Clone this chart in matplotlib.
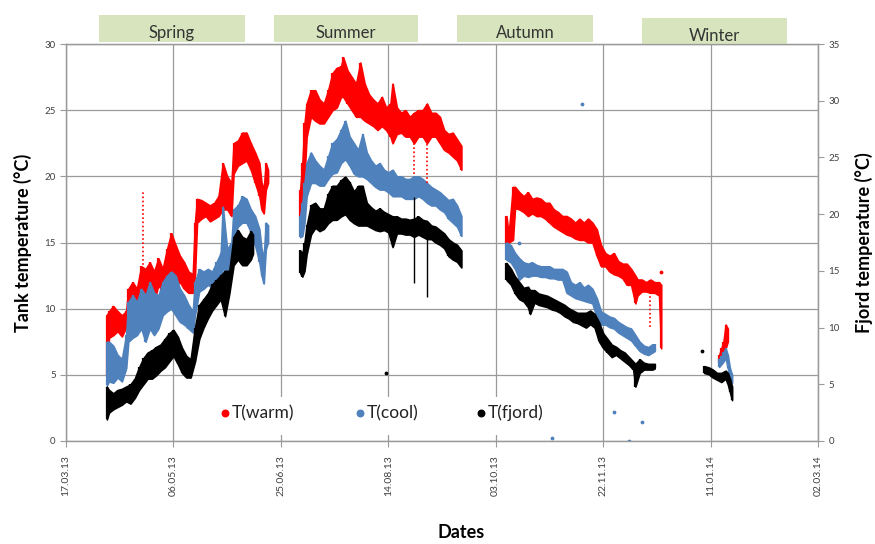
import numpy as np
import matplotlib
matplotlib.use('Agg')
import matplotlib.pyplot as plt
from matplotlib.patches import Rectangle

plt.rcParams['font.family'] = ['Lato', 'DejaVu Sans']

# days counted from 17.03.13, rows are (day, low, high)
warm_spring = [(19, 5.0, 9.5), (20, 7.8, 9.8), (22, 8.0, 10.2), (24, 8.3, 9.8), (26, 7.9, 9.5),
               (28, 8.6, 9.8), (29, 9.5, 11.5), (31, 9.3, 12.0), (33, 9.8, 11.5), (35, 11.0, 13.2),
               (37, 10.3, 13.0), (39, 11.0, 13.5), (41, 10.5, 12.8), (43, 11.8, 13.8), (45, 11.2, 13.0),
               (47, 12.5, 14.5), (49, 12.8, 15.7), (51, 11.8, 14.8), (53, 12.0, 14.0), (55, 11.5, 13.5),
               (57, 11.2, 12.8), (59, 11.2, 12.6), (60, 12.5, 16.5), (61, 16.5, 18.3), (63, 16.8, 18.2),
               (65, 17.0, 18.0), (67, 16.6, 17.8), (69, 16.8, 18.0), (71, 17.0, 18.5), (73, 17.5, 21.0),
               (75, 17.5, 20.0), (77, 17.0, 19.5), (78, 20.2, 22.5), (80, 20.8, 22.7), (82, 21.0, 23.3),
               (84, 21.2, 23.3), (86, 20.5, 22.5), (88, 19.5, 21.8), (90, 18.5, 21.0), (91, 17.5, 19.5),
               (92, 17.2, 19.0), (93, 19.0, 21.0), (94, 19.5, 20.5)]
warm_summer = [(109, 16.9, 19.0), (110, 17.5, 21.0), (111, 20.0, 24.0), (112, 23.0, 25.5), (114, 24.5, 26.5),
               (116, 24.2, 26.5), (118, 24.0, 25.8), (120, 24.0, 25.5), (122, 24.5, 26.5), (124, 25.0, 27.8),
               (126, 25.2, 28.2), (128, 26.0, 28.3), (129, 26.0, 29.0), (131, 25.5, 28.0), (133, 25.0, 27.5),
               (135, 24.5, 27.0), (137, 24.5, 28.6), (139, 24.2, 27.0), (141, 24.0, 26.2), (143, 23.8, 25.8),
               (145, 23.5, 25.5), (147, 23.8, 26.0), (149, 23.5, 25.2), (151, 23.0, 25.5), (152, 22.5, 27.0),
               (154, 23.2, 25.2), (156, 23.3, 24.8), (158, 23.0, 25.0), (160, 23.0, 24.5), (162, 22.5, 24.8),
               (164, 23.0, 25.0), (166, 23.0, 25.0), (168, 22.5, 25.5), (170, 23.0, 24.8), (172, 23.0, 24.8),
               (174, 22.5, 24.5), (176, 22.0, 23.5), (178, 21.8, 23.2), (180, 21.5, 23.3), (182, 21.2, 22.8),
               (184, 20.5, 22.3)]
warm_autumn = [(205, 15.0, 17.0), (206, 15.0, 15.6), (208, 15.2, 19.2), (209, 17.6, 19.2), (211, 17.5, 18.8),
               (213, 17.3, 18.5), (215, 17.0, 18.8), (217, 17.2, 18.3), (219, 17.0, 18.4), (221, 17.0, 18.3),
               (223, 16.8, 18.0), (225, 16.5, 18.0), (227, 16.2, 17.5), (229, 16.0, 17.3), (231, 15.8, 17.0),
               (233, 15.6, 17.0), (235, 15.5, 16.8), (237, 15.3, 16.5), (239, 15.2, 16.8), (241, 15.2, 16.5),
               (243, 15.0, 16.8), (245, 15.0, 16.5), (247, 14.0, 16.0), (249, 13.2, 14.8), (251, 13.2, 14.2),
               (253, 12.8, 14.0), (255, 12.6, 14.2), (257, 12.5, 13.6), (259, 12.3, 13.4), (261, 11.8, 13.4),
               (263, 11.8, 13.0), (265, 10.4, 12.5), (266, 11.0, 12.2), (268, 11.3, 12.2), (270, 11.3, 12.0),
               (272, 11.2, 12.2), (274, 11.2, 12.0), (276, 11.0, 12.0), (277, 7.0, 11.8)]
warm_winter = [(304, 5.9, 6.5), (305, 6.0, 7.0), (306, 6.5, 7.5), (307, 7.0, 8.8), (308, 7.5, 8.5)]

cool_spring = [(19, 4.2, 7.5), (20, 4.5, 7.5), (22, 4.4, 7.2), (24, 4.8, 6.5), (26, 4.5, 6.2),
               (28, 5.5, 8.0), (29, 7.5, 10.5), (31, 7.8, 11.0), (33, 8.0, 10.5), (35, 8.5, 11.5),
               (37, 7.5, 11.0), (39, 8.5, 12.0), (41, 8.0, 11.2), (43, 8.5, 11.0), (45, 9.5, 12.0),
               (47, 9.8, 12.5), (49, 10.0, 12.8), (51, 9.5, 12.5), (53, 9.0, 11.5), (55, 8.8, 11.0),
               (57, 8.5, 10.3), (59, 8.2, 9.8), (60, 9.5, 12.0), (62, 11.3, 13.0), (64, 11.5, 12.8),
               (66, 11.8, 13.0), (68, 11.6, 12.8), (70, 12.0, 13.5), (72, 12.5, 14.2), (73, 13.0, 17.7),
               (75, 12.8, 14.5), (77, 13.5, 15.0), (78, 15.5, 17.5), (80, 16.2, 17.8), (82, 16.5, 18.5),
               (84, 16.5, 18.3), (86, 15.8, 17.5), (88, 14.8, 17.0), (90, 13.5, 16.0), (91, 12.5, 14.5),
               (92, 11.9, 13.8), (93, 14.5, 16.5), (94, 15.0, 16.3)]
cool_summer = [(109, 15.4, 17.0), (110, 15.5, 18.0), (111, 16.5, 19.5), (112, 18.5, 21.0), (114, 19.5, 21.8),
               (116, 19.5, 21.2), (118, 19.3, 20.8), (120, 19.3, 20.5), (122, 19.8, 21.5), (124, 20.2, 22.5),
               (126, 20.3, 22.8), (128, 21.0, 23.5), (130, 21.3, 24.2), (132, 20.8, 23.0), (134, 20.2, 22.5),
               (136, 20.0, 22.0), (138, 20.0, 23.2), (140, 19.8, 21.8), (142, 19.5, 21.2), (144, 19.2, 20.8),
               (146, 19.0, 21.0), (148, 19.0, 20.5), (150, 18.8, 20.3), (152, 18.5, 20.5), (154, 18.5, 20.0),
               (156, 18.5, 20.0), (158, 18.3, 19.8), (160, 18.3, 19.8), (162, 18.3, 20.0), (164, 18.5, 20.0),
               (166, 18.3, 19.8), (168, 18.0, 19.5), (170, 17.8, 19.2), (172, 17.8, 19.0), (174, 17.5, 18.8),
               (176, 17.3, 18.5), (178, 16.8, 18.2), (180, 16.5, 18.3), (182, 16.2, 17.8), (184, 15.5, 17.0)]
cool_autumn = [(205, 13.7, 15.0), (207, 13.5, 14.8), (209, 13.0, 14.2), (211, 12.2, 13.8), (213, 12.5, 13.5),
               (215, 12.4, 13.4), (217, 12.5, 13.5), (219, 12.5, 13.3), (221, 12.4, 13.2), (223, 12.4, 13.2),
               (225, 12.3, 13.2), (227, 12.3, 13.0), (229, 12.2, 13.0), (231, 12.2, 13.0), (233, 11.2, 12.8),
               (235, 11.0, 12.0), (237, 10.8, 11.8), (239, 10.7, 12.0), (241, 10.6, 11.6), (243, 10.5, 11.8),
               (245, 10.4, 11.5), (247, 9.3, 10.8), (249, 8.8, 9.8), (251, 8.8, 9.6), (253, 8.6, 9.4),
               (255, 8.5, 9.3), (257, 8.2, 9.0), (259, 8.0, 8.8), (261, 7.8, 8.6), (263, 7.6, 8.5),
               (265, 7.2, 8.0), (267, 6.8, 7.5), (269, 6.6, 7.2), (271, 6.5, 7.1), (273, 6.7, 7.3),
               (274, 6.8, 7.3)]
cool_winter = [(304, 5.6, 6.2), (305, 5.8, 6.4), (306, 6.0, 6.7), (307, 6.3, 7.0), (308, 5.5, 6.5),
               (309, 4.8, 5.5), (310, 4.4, 5.0)]

# fjord values belong to the right axis
fjord_spring = [(19, 1.9, 4.8), (20, 2.5, 4.5), (22, 2.8, 4.2), (24, 3.0, 4.5), (26, 3.2, 4.6),
                (28, 3.5, 4.8), (30, 3.3, 5.0), (32, 3.8, 5.5), (34, 4.5, 6.5), (36, 5.0, 7.3),
                (38, 5.5, 7.8), (40, 5.5, 8.0), (42, 5.8, 8.3), (44, 6.2, 8.5), (46, 6.5, 9.0),
                (48, 7.0, 9.5), (50, 7.5, 9.8), (52, 6.8, 9.2), (54, 6.0, 8.2), (56, 5.6, 7.5),
                (58, 5.6, 7.2), (60, 7.0, 10.0), (62, 9.0, 12.0), (64, 10.0, 12.5), (66, 10.8, 13.0),
                (68, 11.5, 13.8), (70, 12.0, 14.2), (72, 12.5, 14.6), (74, 11.0, 15.0), (76, 13.0, 15.0),
                (78, 15.5, 18.0), (80, 16.0, 18.6), (82, 15.5, 18.0), (84, 15.5, 17.8), (86, 16.0, 18.5),
                (87, 16.5, 18.2)]
fjord_summer = [(109, 14.8, 16.8), (110, 14.5, 16.5), (111, 15.0, 17.5), (112, 16.5, 19.0), (114, 18.2, 20.8),
                (116, 18.8, 21.0), (118, 18.5, 20.5), (120, 18.7, 20.5), (122, 19.2, 21.8), (124, 19.5, 22.5),
                (126, 19.5, 22.5), (128, 19.8, 23.0), (130, 20.0, 23.3), (132, 19.5, 22.8), (134, 19.2, 22.0),
                (136, 19.0, 22.5), (138, 19.0, 22.5), (140, 19.0, 21.0), (142, 18.8, 20.6), (144, 18.6, 20.3),
                (146, 18.5, 20.5), (148, 18.6, 20.2), (150, 18.4, 20.0), (152, 17.1, 19.8), (154, 18.3, 19.8),
                (156, 18.3, 19.6), (158, 18.2, 19.6), (160, 18.2, 19.5), (162, 18.0, 19.6), (164, 18.2, 19.8),
                (166, 18.0, 19.5), (168, 17.8, 19.4), (170, 17.8, 19.0), (172, 17.5, 18.9), (174, 17.3, 18.6),
                (176, 17.0, 18.3), (178, 16.3, 17.8), (180, 16.0, 17.5), (182, 15.8, 17.3), (184, 15.3, 16.8)]
fjord_autumn = [(205, 14.2, 15.7), (207, 13.8, 15.2), (209, 13.0, 14.5), (211, 12.5, 14.0), (213, 12.3, 13.5),
                (215, 11.8, 13.6), (216, 11.2, 13.3), (218, 12.2, 13.3), (220, 12.0, 13.0), (222, 11.9, 12.9),
                (224, 11.8, 12.8), (226, 11.6, 12.6), (228, 11.5, 12.4), (230, 11.3, 12.2), (232, 11.0, 12.0),
                (234, 10.8, 11.7), (236, 10.5, 11.5), (238, 10.4, 11.3), (240, 10.2, 11.3), (242, 10.0, 11.3),
                (244, 10.3, 11.5), (246, 10.0, 11.2), (248, 8.8, 10.5), (250, 8.2, 9.5), (252, 7.8, 9.0),
                (254, 7.4, 8.5), (256, 7.6, 8.3), (258, 7.3, 8.0), (260, 7.0, 7.8), (262, 6.7, 7.4),
                (264, 6.3, 7.0), (265, 4.8, 6.8), (267, 6.0, 7.2), (269, 6.3, 6.9), (271, 6.3, 6.8),
                (273, 6.3, 6.8), (274, 6.4, 6.8)]
fjord_winter = [(297, 6.0, 6.6), (299, 5.9, 6.5), (301, 5.6, 6.3), (303, 5.4, 6.0), (305, 5.2, 6.0),
                (307, 5.5, 6.2), (308, 5.0, 6.0), (309, 4.3, 5.5), (310, 3.6, 4.8)]

# short spikes and stray readings (day, low, high)
warm_spikes = [(36, 13.0, 19.0), (162, 20.2, 24.0), (168, 19.5, 24.0), (272, 8.6, 11.2)]
fjord_spikes = [(162, 13.9, 21.5), (168, 12.7, 19.0)]
cool_strays = [(211, 15.0), (226, 0.2), (240, 25.5), (255, 2.2), (262, 0.0), (268, 1.4)]
fjord_strays = [(149, 6.0), (296, 7.9)]
warm_strays = [(277, 12.8)]

seasons = ['Spring', 'Summer', 'Autumn', 'Winter']
season_span = [(15.4, 83.3), (96.8, 163.8), (182.0, 245.2), (268.0, 335.5)]

date_ticks = [0, 50, 100, 150, 200, 250, 300, 350]
date_labels = ['17.03.13', '06.05.13', '25.06.13', '14.08.13', '03.10.13', '22.11.13', '11.01.14', '02.03.14']

legend_names = ['T(warm)', 'T(cool)', 'T(fjord)']
legend_day = [74.0, 136.8, 193.1]

c_warm = '#ff0000'
c_cool = '#4f81bd'
c_fjord = '#000000'
grid_c = '#9a9a9a'

fig = plt.figure(figsize=(8.75, 5.44), dpi=100)
ax = fig.add_axes([66 / 875, 103 / 544, 752 / 875, 397 / 544])
ax2 = ax.twinx()


def band(axis, rows, color):
    d = np.array([r[0] for r in rows], dtype=float)
    lo = np.array([r[1] for r in rows])
    hi = np.array([r[2] for r in rows])
    axis.fill_between(d, lo, hi, color=color, lw=1.2, edgecolor=color, zorder=3)
    axis.vlines(d, lo, hi, color=color, lw=1.6, zorder=3)


for rows in [warm_spring, warm_summer, warm_autumn, warm_winter]:
    band(ax, rows, c_warm)
for rows in [cool_spring, cool_summer, cool_autumn, cool_winter]:
    band(ax, rows, c_cool)
for rows in [fjord_spring, fjord_summer, fjord_autumn, fjord_winter]:
    band(ax2, rows, c_fjord)

ax.vlines([s[0] for s in warm_spikes], [s[1] for s in warm_spikes], [s[2] for s in warm_spikes],
          color=c_warm, lw=1.2, linestyles=(0, (1, 1.5)), zorder=3)
ax2.vlines([s[0] for s in fjord_spikes], [s[1] for s in fjord_spikes], [s[2] for s in fjord_spikes],
           color=c_fjord, lw=1.0, zorder=3)
ax.scatter([s[0] for s in cool_strays], [s[1] for s in cool_strays], s=3, color=c_cool, zorder=3)
ax.scatter([s[0] for s in warm_strays], [s[1] for s in warm_strays], s=3, color=c_warm, zorder=3)
ax2.scatter([s[0] for s in fjord_strays], [s[1] for s in fjord_strays], s=3, color=c_fjord, zorder=3)

ax.set_xlim(0, 350)
ax.set_ylim(0, 30)
ax2.set_ylim(0, 35)
ax.set_xticks(date_ticks)
ax.set_xticklabels(date_labels, rotation=90, fontsize=7.5, color='#404040')
ax.set_yticks(range(0, 31, 5))
ax.tick_params(axis='y', labelsize=7, colors='#404040', length=4, width=0.8, color=grid_c)
ax.tick_params(axis='x', length=4, width=0.8, color=grid_c, pad=6)
ax2.set_yticks(range(0, 36, 5))
ax2.tick_params(axis='y', labelsize=7, colors='#404040', length=4, width=0.8, color=grid_c)
ax.grid(True, color=grid_c, lw=0.9)
ax.set_axisbelow(True)
for a in (ax, ax2):
    for sp in a.spines.values():
        sp.set_color(grid_c)
        sp.set_linewidth(0.9)

ax.set_ylabel('Tank temperature (°C)', fontsize=13, fontweight='bold', labelpad=9)
ax2.set_ylabel('Fjord temperature (°C)', fontsize=13, fontweight='bold', labelpad=11)
ax.set_xlabel('Dates', fontsize=13, fontweight='bold')
ax.xaxis.set_label_coords(0.525, -0.21)

# season header boxes above the plot
tr = ax.get_xaxis_transform()
for i, name in enumerate(seasons):
    x0, x1 = season_span[i]
    if name == 'Winter':
        y0, y1 = 1.0, 1.0655
    else:
        y0, y1 = 1.005, 1.073
    ax.add_patch(Rectangle((x0, y0), x1 - x0, y1 - y0, transform=tr, clip_on=False,
                           facecolor='#d7e4bd', edgecolor='none', zorder=5))
    ax.text((x0 + x1) / 2, (y0 + y1) / 2 - 0.012, name, transform=tr, ha='center', va='center',
            fontsize=12, color='#333333', zorder=6)

# legend drawn in place: white backing box, dots and labels
ax.add_patch(Rectangle((62.3, 0.45), 172.2, 2.9, facecolor='white', edgecolor='none', zorder=2.5))
for name, d, c in zip(legend_names, legend_day, [c_warm, c_cool, c_fjord]):
    ax.scatter([d], [2.1], s=22, color=c, zorder=4)
    ax.text(d + 3.0, 2.1, name, fontsize=12.5, ha='left', va='center', color='#222222', zorder=4)

fig.savefig('out.png', dpi=100)
